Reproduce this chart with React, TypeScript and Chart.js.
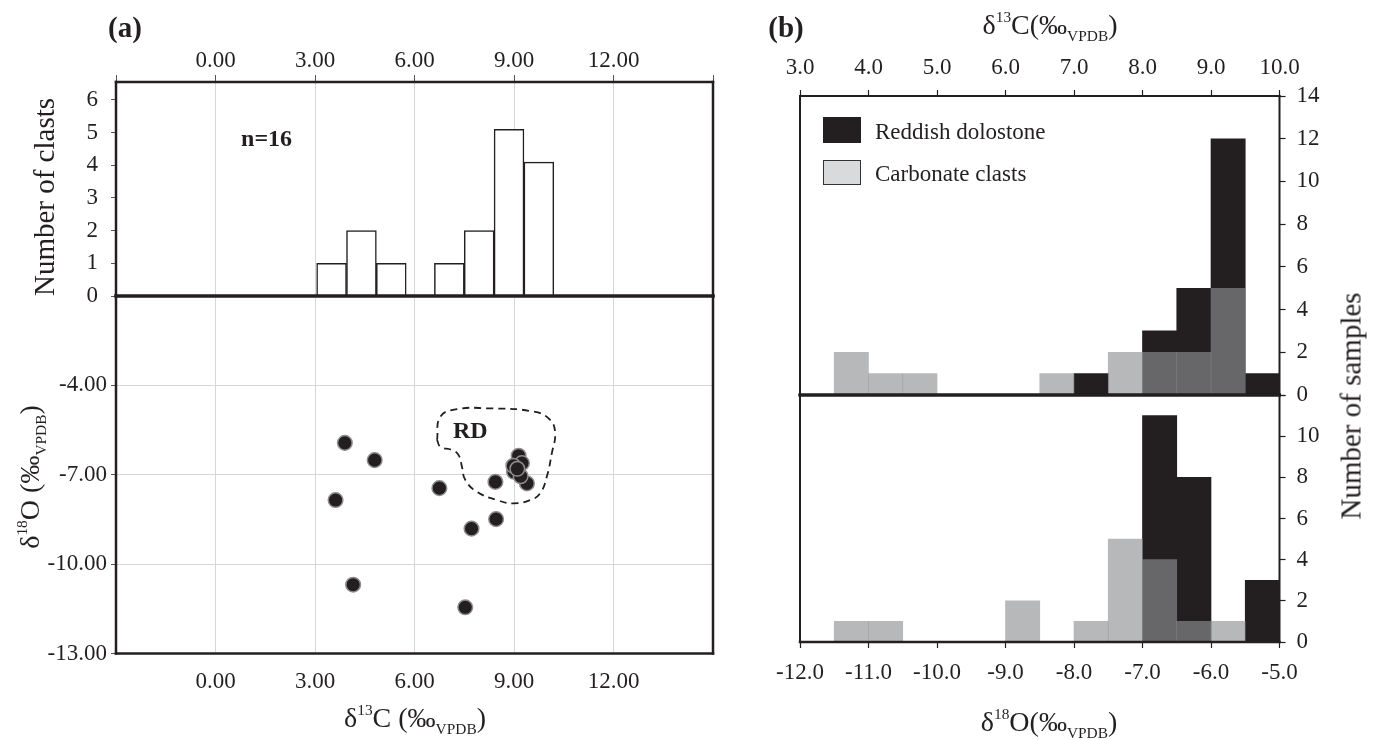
import React, { useEffect, useRef } from 'react';
import { Chart, registerables } from 'chart.js';

Chart.register(...registerables);

const FONT = "'Liberation Serif', 'Times New Roman', serif";
const INK = '#231f20';
const GRID = '#d6d6d6';

// ---------- Panel (a): histogram of clast δ13C ----------
const clastBinCenters = [3.5, 4.4, 5.3, 7.05, 7.95, 8.85, 9.75];
const clastCounts = [1, 2, 1, 1, 2, 5.1, 4.1];

// ---------- Panel (a): cross-plot of clasts ----------
const clastD13C = [3.9, 4.8, 3.62, 4.15, 7.53, 6.75, 8.44, 8.46, 7.72, 9.14, 9.24, 9.0, 9.39, 8.98, 9.2, 9.1];
const clastD18O = [-5.93, -6.51, -7.85, -10.69, -11.45, -7.45, -7.24, -8.49, -8.81, -6.36, -6.61, -6.9, -7.29, -6.7, -7.05, -6.8];

// RD (reddish dolostone) field outline
const rdOutlineX = [6.68, 6.78, 7.28, 8.19, 9.59, 10.09, 10.24, 10.14, 9.99, 9.79, 9.49, 8.99, 8.49, 7.88, 7.53, 7.43, 7.33, 7.13, 6.78, 6.68];
const rdOutlineY = [-5.83, -5.05, -4.8, -4.77, -4.88, -5.16, -5.61, -6.28, -7.06, -7.62, -7.85, -7.96, -7.85, -7.57, -7.17, -6.73, -6.34, -6.17, -6.06, -5.83];

// ---------- Panel (b): δ13C histogram ----------
const d13CBins = [3.75, 4.25, 4.75, 6.75, 7.25, 7.75, 8.25, 8.75, 9.25, 9.75];
const d13CReddish = [0, 0, 0, 0, 1, 0, 3, 5, 12, 1];
const d13CCarbonate = [2, 1, 1, 1, 0, 2, 2, 2, 5, 0];

// ---------- Panel (b): δ18O histogram ----------
const d18OBins = [-11.25, -10.75, -8.75, -7.75, -7.25, -6.75, -6.25, -5.75, -5.25];
const d18OReddish = [0, 0, 0, 0, 0, 11, 8, 0, 3];
const d18OCarbonate = [1, 1, 2, 1, 5, 4, 1, 1, 0];

const seriesNames = ['Reddish dolostone', 'Carbonate clasts'];
const REDDISH = INK;
const CARBONATE = 'rgba(143,144,147,0.64)';
const CARBONATE_LEGEND = '#d9dadb';

const tickFont = { family: FONT, size: 23 };

const fitTo = (prop: 'width' | 'height', size: number) => (s: any) => {
  s[prop] = size;
  s.paddingTop = 0;
  s.paddingBottom = 0;
  s.paddingLeft = 0;
  s.paddingRight = 0;
};

const framePlugin = {
  id: 'frame',
  afterDraw(chart: any, _args: any, opts: any) {
    const { ctx, chartArea: a } = chart;
    ctx.save();
    ctx.strokeStyle = opts.color || INK;
    ctx.lineCap = 'square';
    const seg = (w: number, x1: number, y1: number, x2: number, y2: number) => {
      if (!w) return;
      ctx.lineWidth = w;
      ctx.beginPath();
      ctx.moveTo(x1, y1);
      ctx.lineTo(x2, y2);
      ctx.stroke();
    };
    seg(opts.top, a.left, a.top, a.right, a.top);
    seg(opts.bottom, a.left, a.bottom, a.right, a.bottom);
    seg(opts.left, a.left, a.top, a.left, a.bottom);
    seg(opts.right, a.right, a.top, a.right, a.bottom);
    ctx.restore();
  },
};

const textPlugin = {
  id: 'texts',
  afterDatasetsDraw(chart: any, _args: any, opts: any) {
    const items = opts.items || [];
    const { ctx } = chart;
    ctx.save();
    for (const t of items) {
      const x = chart.scales.x.getPixelForValue(t.x);
      const y = chart.scales.y.getPixelForValue(t.y);
      ctx.font = t.font;
      ctx.fillStyle = INK;
      ctx.textAlign = 'center';
      ctx.textBaseline = 'middle';
      ctx.fillText(t.text, x, y);
    }
    ctx.restore();
  },
};

const basePlugins = { legend: { display: false }, tooltip: { enabled: false } };

function Iso({ n, el, space }: { n: string; el: string; space?: boolean }) {
  return (
    <>
      δ
      <span style={{ fontSize: '0.55em', position: 'relative', top: '-0.8em' }}>{n}</span>
      {el}
      {space ? ' ' : ''}(‰
      <span style={{ fontSize: '0.55em', position: 'relative', top: '0.45em' }}>VPDB</span>)
    </>
  );
}

function Label({ x, y, size, bold, rotate, children }: any) {
  return (
    <div
      style={{
        position: 'absolute',
        left: x,
        top: y,
        transform: `translate(-50%, -50%)${rotate ? ' rotate(-90deg)' : ''}`,
        whiteSpace: 'nowrap',
        fontFamily: FONT,
        fontSize: size,
        fontWeight: bold ? 'bold' : 'normal',
        lineHeight: 1,
        color: INK,
      }}
    >
      {children}
    </div>
  );
}

export default function App() {
  const a1 = useRef<HTMLCanvasElement>(null);
  const a2 = useRef<HTMLCanvasElement>(null);
  const b1 = useRef<HTMLCanvasElement>(null);
  const b2 = useRef<HTMLCanvasElement>(null);

  useEffect(() => {
    const charts: Chart[] = [];

    // Panel (a) top: histogram  (canvas 0..320, chart area 82..296)
    charts.push(
      new Chart(a1.current as HTMLCanvasElement, {
        type: 'bar',
        data: {
          datasets: [
            {
              data: clastBinCenters.map((x, i) => ({ x, y: clastCounts[i] })),
              backgroundColor: '#ffffff',
              borderColor: INK,
              borderWidth: 1.5,
              barPercentage: 1,
              categoryPercentage: 1,
            } as any,
          ],
        },
        options: {
          animation: false,
          responsive: false,
          layout: { padding: { left: 0, top: 0, right: 17, bottom: 24 } },
          plugins: {
            ...basePlugins,
            frame: { top: 2.5, left: 2.5, right: 2.5 },
            texts: { items: [{ text: 'n=16', x: 1.54, y: 4.78, font: `bold 24px ${FONT}` }] },
          } as any,
          scales: {
            x: {
              type: 'linear',
              position: 'top',
              min: -3,
              max: 15,
              offset: false,
              ticks: {
                stepSize: 3,
                autoSkip: false,
                maxRotation: 0,
                font: tickFont,
                color: INK,
                padding: 0,
                callback: (v: any) => (v === -3 || v === 15 ? '' : Number(v).toFixed(2)),
              },
              grid: { offset: false, color: GRID, lineWidth: 1, tickLength: 7, tickColor: '#555' },
              border: { display: false },
              afterFit: fitTo('height', 82),
            } as any,
            y: {
              min: 0,
              max: 6.55,
              ticks: { stepSize: 1, includeBounds: false, font: tickFont, color: INK, padding: 13 },
              grid: { drawOnChartArea: false, tickLength: 5, tickColor: '#555' },
              border: { display: false },
              afterFit: fitTo('width', 116),
            } as any,
          },
        },
        plugins: [framePlugin, textPlugin],
      })
    );

    // Panel (a) bottom: scatter  (canvas 270..740, chart area 296..653.5)
    charts.push(
      new Chart(a2.current as HTMLCanvasElement, {
        type: 'scatter',
        data: {
          datasets: [
            {
              data: clastD13C.map((x, i) => ({ x, y: clastD18O[i] })),
              pointRadius: 7.3,
              pointBackgroundColor: INK,
              pointBorderColor: '#8c8c8c',
              pointBorderWidth: 1.5,
              order: 1,
            } as any,
            {
              data: rdOutlineX.map((x, i) => ({ x, y: rdOutlineY[i] })),
              showLine: true,
              pointRadius: 0,
              borderColor: INK,
              borderWidth: 1.8,
              borderDash: [7, 5],
              tension: 0.45,
              fill: false,
              order: 2,
            } as any,
          ],
        },
        options: {
          animation: false,
          responsive: false,
          layout: { padding: { left: 0, top: 26, right: 17, bottom: 0 } },
          plugins: {
            ...basePlugins,
            frame: { top: 3.5, left: 2.5, right: 2.5, bottom: 2.5 },
            texts: { items: [{ text: 'RD', x: 7.68, y: -5.55, font: `bold 24px ${FONT}` }] },
          } as any,
          scales: {
            x: {
              type: 'linear',
              position: 'bottom',
              min: -3,
              max: 15,
              ticks: {
                stepSize: 3,
                autoSkip: false,
                maxRotation: 0,
                font: tickFont,
                color: INK,
                padding: 15,
                callback: (v: any) => (v === -3 || v === 15 ? '' : Number(v).toFixed(2)),
              },
              grid: { color: GRID, lineWidth: 1, drawTicks: false },
              border: { display: false },
              afterFit: fitTo('height', 86.5),
            } as any,
            y: {
              min: -13,
              max: -1,
              ticks: {
                stepSize: 3,
                autoSkip: false,
                font: tickFont,
                color: INK,
                padding: 4,
                callback: (v: any) => (v === -1 ? '' : Number(v).toFixed(2)),
              },
              grid: { color: GRID, lineWidth: 1, tickLength: 5, tickColor: '#555' },
              border: { display: false },
              afterFit: fitTo('width', 116),
            } as any,
          },
        },
        plugins: [framePlugin, textPlugin],
      })
    );

    const barDs = (label: string, bins: number[], vals: number[], color: string, order: number) =>
      ({
        label,
        data: bins.map((x, i) => ({ x, y: vals[i] })),
        backgroundColor: color,
        borderWidth: 0,
        grouped: false,
        order,
        barPercentage: 1,
        categoryPercentage: 1,
      } as any);

    // Panel (b) top: δ13C  (canvas 0..420, chart area 96..395)
    charts.push(
      new Chart(b1.current as HTMLCanvasElement, {
        type: 'bar',
        data: {
          datasets: [
            barDs(seriesNames[1], d13CBins, d13CCarbonate, CARBONATE, 1),
            barDs(seriesNames[0], d13CBins, d13CReddish, REDDISH, 2),
          ],
        },
        options: {
          animation: false,
          responsive: false,
          layout: { padding: { left: 60, top: 0, right: 0, bottom: 25 } },
          plugins: { ...basePlugins, frame: { top: 2, left: 2, right: 2, bottom: 3 } } as any,
          scales: {
            x: {
              type: 'linear',
              position: 'top',
              min: 3,
              max: 10,
              offset: false,
              ticks: {
                stepSize: 1,
                autoSkip: false,
                maxRotation: 0,
                font: tickFont,
                color: INK,
                padding: 8,
                callback: (v: any) => Number(v).toFixed(1),
              },
              grid: { offset: false, drawOnChartArea: false, tickLength: 6, tickColor: INK, tickWidth: 1.2 },
              border: { display: false },
              afterFit: fitTo('height', 96),
            } as any,
            y: {
              position: 'right',
              min: 0,
              max: 14,
              ticks: { stepSize: 2, autoSkip: false, font: tickFont, color: INK, padding: 11 },
              grid: { drawOnChartArea: false, tickLength: 6, tickColor: INK, tickWidth: 1.2 },
              border: { display: false },
              afterFit: fitTo('width', 96.5),
            } as any,
          },
        },
        plugins: [framePlugin],
      })
    );

    // Panel (b) bottom: δ18O  (canvas 380..740, chart area 395..642)
    charts.push(
      new Chart(b2.current as HTMLCanvasElement, {
        type: 'bar',
        data: {
          datasets: [
            barDs(seriesNames[1], d18OBins, d18OCarbonate, CARBONATE, 1),
            barDs(seriesNames[0], d18OBins, d18OReddish, REDDISH, 2),
          ],
        },
        options: {
          animation: false,
          responsive: false,
          layout: { padding: { left: 60, top: 15, right: 0, bottom: 0 } },
          plugins: { ...basePlugins, frame: { top: 3, left: 2, right: 2, bottom: 2.5 } } as any,
          scales: {
            x: {
              type: 'linear',
              position: 'bottom',
              min: -12,
              max: -5,
              offset: false,
              ticks: {
                stepSize: 1,
                autoSkip: false,
                maxRotation: 0,
                font: tickFont,
                color: INK,
                padding: 11,
                callback: (v: any) => Number(v).toFixed(1),
              },
              grid: { offset: false, drawOnChartArea: false, tickLength: 6, tickColor: INK, tickWidth: 1.2 },
              border: { display: false },
              afterFit: fitTo('height', 98),
            } as any,
            y: {
              position: 'right',
              min: 0,
              max: 12,
              ticks: {
                stepSize: 2,
                autoSkip: false,
                font: tickFont,
                color: INK,
                padding: 11,
                callback: (v: any) => (v === 12 ? '' : String(v)),
              },
              grid: { drawOnChartArea: false, tickLength: 6, tickColor: INK, tickWidth: 1.2 },
              border: { display: false },
              afterFit: fitTo('width', 96.5),
            } as any,
          },
        },
        plugins: [framePlugin],
      })
    );

    return () => charts.forEach((c) => c.destroy());
  }, []);

  const abs = (left: number, top: number): React.CSSProperties => ({ position: 'absolute', left, top });

  return (
    <div style={{ position: 'absolute', left: 0, top: 0, width: 1376, height: 740, background: '#fff', overflow: 'hidden' }}>
      <canvas ref={a1} width={730} height={320} style={abs(0, 0)} />
      <canvas ref={a2} width={730} height={470} style={abs(0, 270)} />
      <canvas ref={b1} width={636} height={420} style={abs(740, 0)} />
      <canvas ref={b2} width={636} height={360} style={abs(740, 380)} />

      <Label x={125} y={27} size={29} bold>(a)</Label>
      <Label x={786} y={27} size={29} bold>(b)</Label>
      <Label x={44} y={197} size={29} rotate>Number of clasts</Label>
      <Label x={30} y={477} size={28} rotate><Iso n="18" el="O" space /></Label>
      <Label x={415} y={718} size={28}><Iso n="13" el="C" space /></Label>
      <Label x={1050} y={25} size={28}><Iso n="13" el="C" /></Label>
      <Label x={1049} y={722} size={28}><Iso n="18" el="O" /></Label>
      <Label x={1351} y={406} size={29} rotate>Number of samples</Label>

      {/* Legend for panel (b) */}
      <div style={{ position: 'absolute', left: 823, top: 117, width: 38, height: 26, boxSizing: 'border-box', background: REDDISH, border: `1.5px solid ${INK}` }} />
      <div style={{ position: 'absolute', left: 823, top: 160, width: 38, height: 25, boxSizing: 'border-box', background: CARBONATE_LEGEND, border: '1.5px solid #333' }} />
      <div style={{ position: 'absolute', left: 875, top: 131, transform: 'translateY(-50%)', fontFamily: FONT, fontSize: 23, lineHeight: 1, color: INK, whiteSpace: 'nowrap' }}>{seriesNames[0]}</div>
      <div style={{ position: 'absolute', left: 875, top: 173, transform: 'translateY(-50%)', fontFamily: FONT, fontSize: 23, lineHeight: 1, color: INK, whiteSpace: 'nowrap' }}>{seriesNames[1]}</div>
    </div>
  );
}
